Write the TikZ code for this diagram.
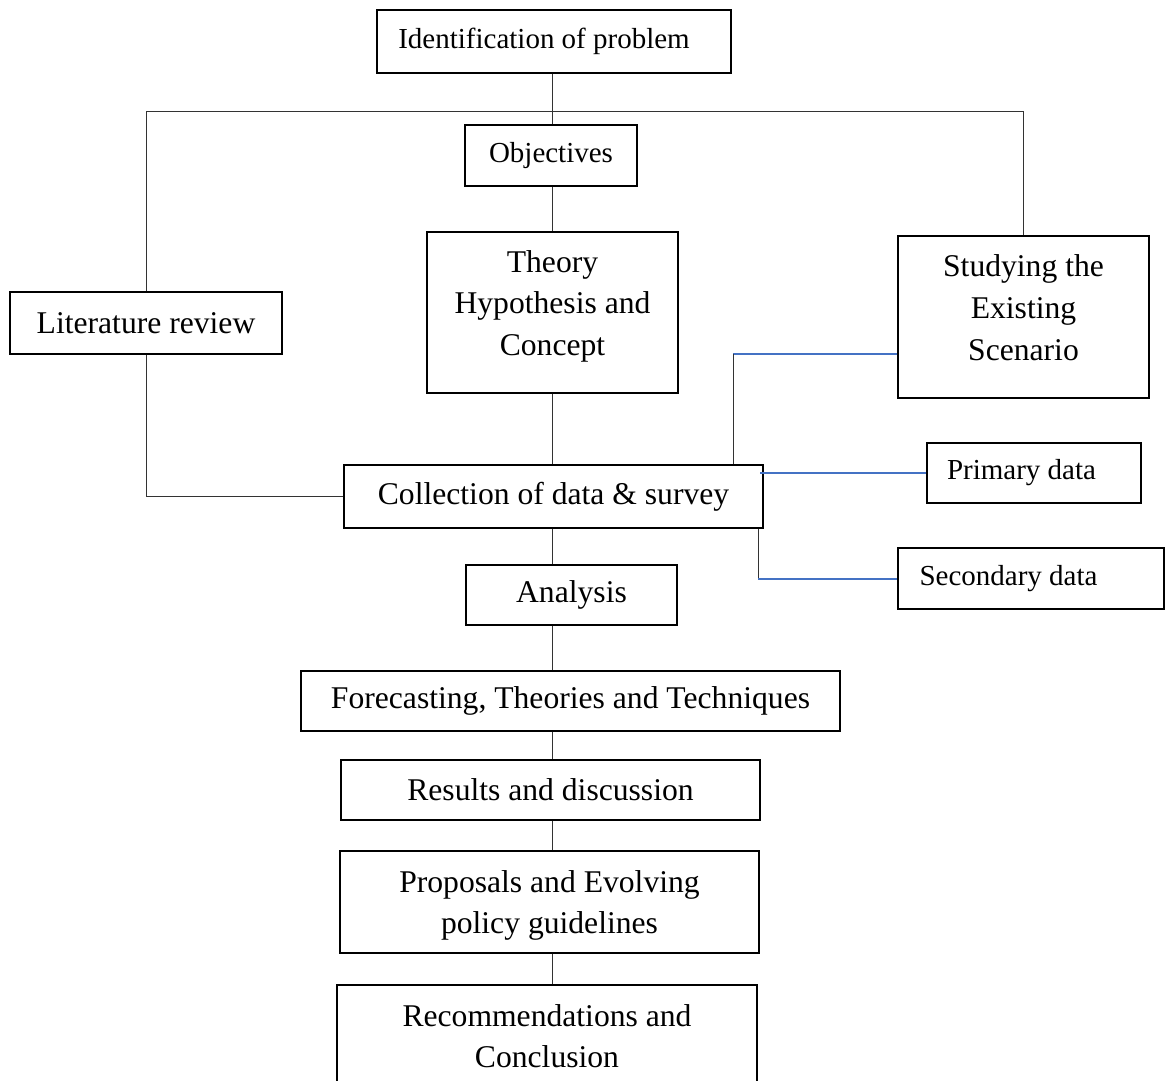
\documentclass[tikz,border=0pt]{standalone}
\usepackage{fontspec}
\setmainfont{Liberation Serif}
\usetikzlibrary{calc}
\definecolor{linkblue}{RGB}{68,114,196}
\tikzset{%
	box/.style={draw,line width=0.85pt,inner sep=2pt,align=center,font=\fontsize{18}{23.8}\selectfont},
	smallbox/.style={box,font=\fontsize{16.5}{20}\selectfont},
	link/.style={line width=0.5pt,draw=black!80},
	bluelink/.style={line width=0.8pt,draw=linkblue},
}

\begin{document}
\begin{tikzpicture}[x=0.02cm,y=-0.02cm]
			\clip (0,0) rectangle (1166,1081);
			\node[smallbox, minimum width=7.08cm, minimum height=1.26cm] (ident) at (554,41.5) {Identification of problem\hspace{0.4cm}};
			\node[smallbox, minimum width=3.44cm, minimum height=1.22cm] (obj) at (551,155.5) {Objectives};
			\node[box, minimum width=5.02cm, minimum height=3.22cm] (theory) at (552.5,312.5) {Theory\\Hypothesis and\\Concept\\[-13pt]};
			\node[box, minimum width=5.02cm, minimum height=3.24cm] (study) at (1023.5,317) {Studying the\\Existing\\Scenario\\[-13pt]};
			\node[box, minimum width=5.44cm, minimum height=1.24cm] (lit) at (146,323) {Literature review};
			\node[box, minimum width=8.38cm, minimum height=1.26cm] (coll) at (553.5,496.5) {Collection of data \& survey};
			\node[smallbox, minimum width=4.28cm, minimum height=1.2cm] (prim) at (1034,473) {Primary data\hspace{0.5cm}};
			\node[smallbox, minimum width=5.32cm, minimum height=1.22cm] (sec) at (1031,578.5) {Secondary data\hspace{0.9cm}};
			\node[box, minimum width=4.22cm, minimum height=1.2cm] (ana) at (571.5,595) {Analysis};
			\node[box, minimum width=10.78cm, minimum height=1.2cm] (fore) at (570.5,701) {Forecasting, Theories and Techniques};
			\node[box, minimum width=8.38cm, minimum height=1.2cm] (res) at (550.5,790) {Results and discussion};
			\node[box, minimum width=8.38cm, minimum height=2.04cm, text depth=0pt] (prop) at (549.5,902) {Proposals and Evolving\\policy guidelines};
			\node[box, minimum width=8.4cm, minimum height=2.2cm, text depth=0.16cm] (rec) at (547,1040) {Recommendations and\\Conclusion};
			\coordinate (spine) at (552,0);
			\coordinate (barR) at (1023.5,111);
			\coordinate (sk) at (733,354);
			\coordinate (si) at (760,473);
			\coordinate (sj) at (758,579);
			\foreach \a/\b in {ident/obj, obj/theory, theory/coll, coll/ana, ana/fore, fore/res, res/prop, prop/rec}
				\draw[link] (\a.south -| spine) -- (\b.north -| spine);
			\draw[link] (lit.north) |- (barR) -- (study.north);
			\draw[link] (lit.south) |- (coll.west);
			\draw[bluelink] (study.west |- sk) -- (sk);
			\draw[link] (sk) -- (sk |- coll.north);
			\draw[bluelink] (si) -- (prim.west |- si);
			\draw[link] (sj |- coll.south) -- (sj);
			\draw[bluelink] (sj) -- (sec.west |- sj);
		\end{tikzpicture}
\end{document}
